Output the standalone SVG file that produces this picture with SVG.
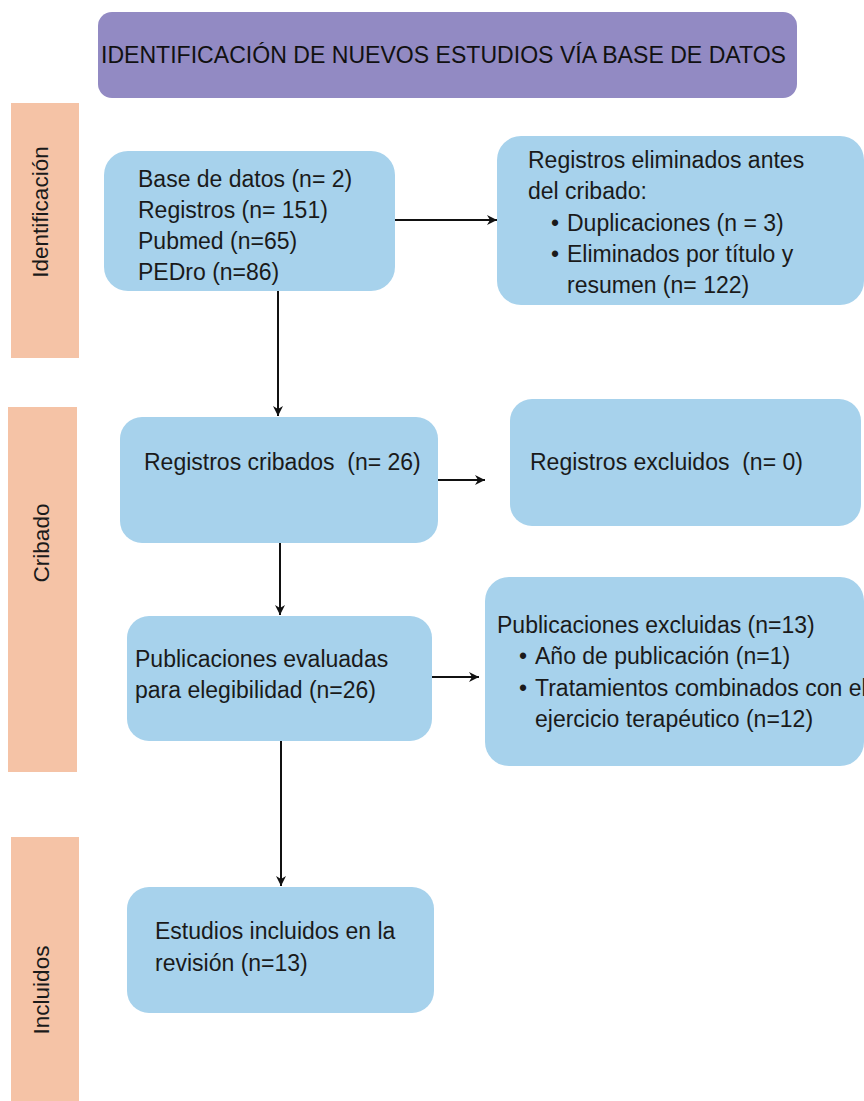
<svg xmlns="http://www.w3.org/2000/svg" width="864" height="1101" viewBox="0 0 864 1101">
<defs>
<style>
.box{fill:#a7d2ec;}
.side{fill:#f5c3a6;}
.t{font-family:"Liberation Sans",Arial,sans-serif;font-size:23px;fill:#1a1a1a;}
.s{font-family:"Liberation Sans",Arial,sans-serif;font-size:22.5px;fill:#1a1a1a;text-anchor:middle;}
.c{stroke:#111;stroke-width:2;fill:none;marker-end:url(#ah);}
</style>
<marker id="ah" viewBox="0 0 10 10" refX="10" refY="5" markerWidth="5" markerHeight="5" markerUnits="strokeWidth" orient="auto">
<path d="M0,0 L10,5 L0,10 L3,5 Z" fill="#111"/>
</marker>
</defs>
<rect width="864" height="1101" fill="#fff"/>
<g id="header">
<rect x="98" y="12" width="699" height="86" rx="14" fill="#928ac3"/>
<text x="101" y="63" font-family="'Liberation Sans',Arial,sans-serif" font-size="24.5" fill="#111" textLength="685" lengthAdjust="spacingAndGlyphs">IDENTIFICACIÓN DE NUEVOS ESTUDIOS VÍA BASE DE DATOS</text>
</g>
<g id="lane-identificacion">
<rect class="side" x="11" y="103" width="68" height="255"/>
<text class="s" transform="translate(48,212) rotate(-90)">Identificación</text>
</g>
<g id="lane-cribado">
<rect class="side" x="8" y="407" width="69" height="365"/>
<text class="s" transform="translate(49,543) rotate(-90)">Cribado</text>
</g>
<g id="lane-incluidos">
<rect class="side" x="11" y="837" width="68" height="270"/>
<text class="s" transform="translate(49,990) rotate(-90)">Incluidos</text>
</g>
<g id="connectors">
<path class="c" d="M395,220 H497"/>
<path class="c" d="M278,291 V416"/>
<path class="c" d="M438,480 H485"/>
<path class="c" d="M280,543 V615"/>
<path class="c" d="M432,677 H479"/>
<path class="c" d="M281,741 V886"/>
</g>
<g id="n1">
<rect class="box" x="104" y="151" width="291" height="140" rx="24"/>
<text class="t" x="138" y="187">Base de datos (n= 2)</text>
<text class="t" x="138" y="218">Registros (n= 151)</text>
<text class="t" x="138" y="249">Pubmed (n=65)</text>
<text class="t" x="138" y="280">PEDro (n=86)</text>
</g>
<g id="n2">
<rect class="box" x="497" y="136" width="367" height="169" rx="24"/>
<text class="t" x="528" y="168">Registros eliminados antes</text>
<text class="t" x="528" y="199">del cribado:</text>
<text class="t" x="551" y="231">•</text>
<text class="t" x="567" y="231">Duplicaciones (n = 3)</text>
<text class="t" x="551" y="262">•</text>
<text class="t" x="567" y="262">Eliminados por título y</text>
<text class="t" x="567" y="293">resumen (n= 122)</text>
</g>
<g id="n3">
<rect class="box" x="120" y="417" width="318" height="126" rx="22"/>
<text class="t" x="144" y="470" xml:space="preserve">Registros cribados  (n= 26)</text>
</g>
<g id="n4">
<rect class="box" x="510" y="399" width="351" height="127" rx="22"/>
<text class="t" x="530" y="470" xml:space="preserve">Registros excluidos  (n= 0)</text>
</g>
<g id="n5">
<rect class="box" x="127" y="616" width="305" height="125" rx="22"/>
<text class="t" x="135" y="667">Publicaciones evaluadas</text>
<text class="t" x="135" y="698">para elegibilidad (n=26)</text>
</g>
<g id="n6">
<rect class="box" x="485" y="577" width="379" height="189" rx="24"/>
<text class="t" x="497" y="633">Publicaciones excluidas (n=13)</text>
<text class="t" x="519" y="664">•</text>
<text class="t" x="535" y="664">Año de publicación (n=1)</text>
<text class="t" x="519" y="696">•</text>
<text class="t" x="535" y="696">Tratamientos combinados con el</text>
<text class="t" x="535" y="727">ejercicio terapéutico (n=12)</text>
</g>
<g id="n7">
<rect class="box" x="127" y="887" width="307" height="126" rx="22"/>
<text class="t" x="155" y="939">Estudios incluidos en la</text>
<text class="t" x="155" y="971">revisión (n=13)</text>
</g>
</svg>
